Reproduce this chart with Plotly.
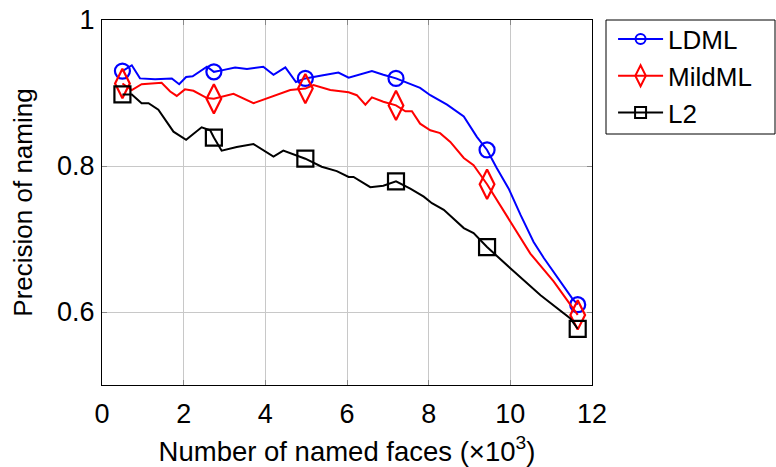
import plotly.graph_objects as go

# ---- data ----
ldml_x = [0.5, 0.73, 0.93, 1.3, 1.71, 1.89, 2.06, 2.22, 2.57, 2.74, 2.93, 3.26, 3.55, 3.95, 4.2, 4.49,
          4.75, 4.98, 5.38, 5.79, 6.04, 6.61, 6.89, 7.2, 7.79, 8.04, 8.45, 8.86, 9.18, 9.43, 9.67,
          9.96, 10.25, 10.57, 10.82, 11.06, 11.51, 11.65]
ldml_y = [0.930, 0.938, 0.920, 0.919, 0.920, 0.912, 0.922, 0.923, 0.936, 0.929, 0.931, 0.935, 0.933,
          0.936, 0.925, 0.935, 0.915, 0.920, 0.924, 0.928, 0.921, 0.930, 0.925, 0.920, 0.907, 0.897,
          0.884, 0.868, 0.840, 0.822, 0.797, 0.769, 0.733, 0.696, 0.674, 0.655, 0.619, 0.610]

mildml_x = [0.5, 0.73, 0.97, 1.46, 1.67, 1.83, 2.03, 2.24, 2.57, 2.74, 3.22, 3.71, 4.61, 4.98, 5.18,
            5.59, 6.04, 6.24, 6.45, 6.61, 6.89, 7.2, 7.43, 7.59, 7.79, 8.04, 8.28, 8.53, 8.86, 9.1,
            9.43, 10.0, 10.49, 11.06, 11.65]
mildml_y = [0.913, 0.904, 0.912, 0.914, 0.902, 0.896, 0.905, 0.903, 0.893, 0.892, 0.899, 0.886, 0.904,
            0.906, 0.911, 0.904, 0.901, 0.897, 0.884, 0.894, 0.888, 0.883, 0.875, 0.875, 0.858, 0.849,
            0.845, 0.833, 0.811, 0.801, 0.775, 0.724, 0.680, 0.642, 0.596]

l2_x = [0.5, 0.73, 0.97, 1.14, 1.38, 1.75, 2.06, 2.44, 2.65, 2.74, 2.93, 3.3, 3.71, 4.2, 4.44, 4.98,
        5.38, 5.75, 6.04, 6.16, 6.57, 6.89, 7.2, 7.55, 7.88, 8.08, 8.37, 8.86, 9.1, 9.43, 10.0, 10.74,
        11.47, 11.65]
l2_y = [0.898, 0.898, 0.886, 0.886, 0.877, 0.847, 0.836, 0.853, 0.849, 0.839, 0.821, 0.826, 0.830,
        0.813, 0.821, 0.810, 0.799, 0.793, 0.785, 0.785, 0.771, 0.773, 0.779, 0.769, 0.758, 0.749,
        0.740, 0.715, 0.708, 0.689, 0.660, 0.623, 0.591, 0.577]

marker_x = [0.5, 2.74, 4.98, 7.2, 9.43, 11.65]

x_ticks = [0, 2, 4, 6, 8, 10, 12]
y_ticks = [0.6, 0.8, 1.0]
y_tick_labels = ["0.6", "0.8", "1"]

series = [
    ("LDML", ldml_x, ldml_y, "#0000ff", "circle-open", 15),
    ("MildML", mildml_x, mildml_y, "#ff0000", "diamond-tall-open", 21),
    ("L2", l2_x, l2_y, "#000000", "square-open", 16),
]

FONT = "Liberation Sans"
FS = 27
fig = go.Figure()
for i, (name, xs, ys, color, sym, size) in enumerate(series):
    fig.add_trace(go.Scatter(x=xs, y=ys, mode="lines", line=dict(color=color, width=2),
                             showlegend=False, hoverinfo="skip"))
    mx = [x for x in xs if x in marker_x]
    my = [y for x, y in zip(xs, ys) if x in marker_x]
    fig.add_trace(go.Scatter(x=mx, y=my, mode="markers", showlegend=False,
                             marker=dict(symbol=sym, size=size, color=color,
                                         line=dict(width=2.2, color=color))))
    fig.add_trace(go.Scatter(x=[None], y=[None], mode="lines+markers", name=name,
                             line=dict(color=color, width=2),
                             marker=dict(symbol=sym, size=round(size * 0.7), color=color,
                                         line=dict(width=2, color=color))))

axis_common = dict(showline=True, linecolor="black", linewidth=1, mirror="ticks",
                   ticks="inside", ticklen=5, tickcolor="#888888", tickwidth=1,
                   showgrid=True, gridcolor="#c8c8c8", gridwidth=1, zeroline=False,
                   automargin=False,
                   tickfont=dict(family=FONT, size=FS, color="black"))

fig.update_layout(
    width=776, height=467,
    margin=dict(l=102, r=184, t=20, b=82, autoexpand=False),
    paper_bgcolor="white", plot_bgcolor="white",
    font=dict(family=FONT, size=FS, color="black"),
    xaxis=dict(range=[0, 12], tickvals=x_ticks, ticklabelstandoff=5,
               title=dict(text="Number of named faces (×10<sup>3</sup>)", standoff=18,
                          font=dict(family=FONT, size=27.5)),
               **axis_common),
    yaxis=dict(range=[0.5, 1.0], tickvals=y_ticks, ticktext=y_tick_labels, ticklabelstandoff=1,
               title=dict(text="Precision of naming", standoff=16,
                          font=dict(family=FONT, size=26)),
               **axis_common),
    legend=dict(x=1.043, y=1.012, xanchor="left", yanchor="top",
                borderwidth=0, bgcolor="rgba(0,0,0,0)", itemwidth=45,
                font=dict(family=FONT, size=26)),
    shapes=[dict(type="rect", xref="paper", yref="paper",
                 x0=(606 - 102) / 490, x1=(775 - 102) / 490, y0=1 - 114 / 365, y1=1.0,
                 line=dict(color="black", width=1), fillcolor="rgba(0,0,0,0)")],
)

fig.write_html("out.html", config={"displayModeBar": False},
               post_script="document.body.style.margin='0';")
